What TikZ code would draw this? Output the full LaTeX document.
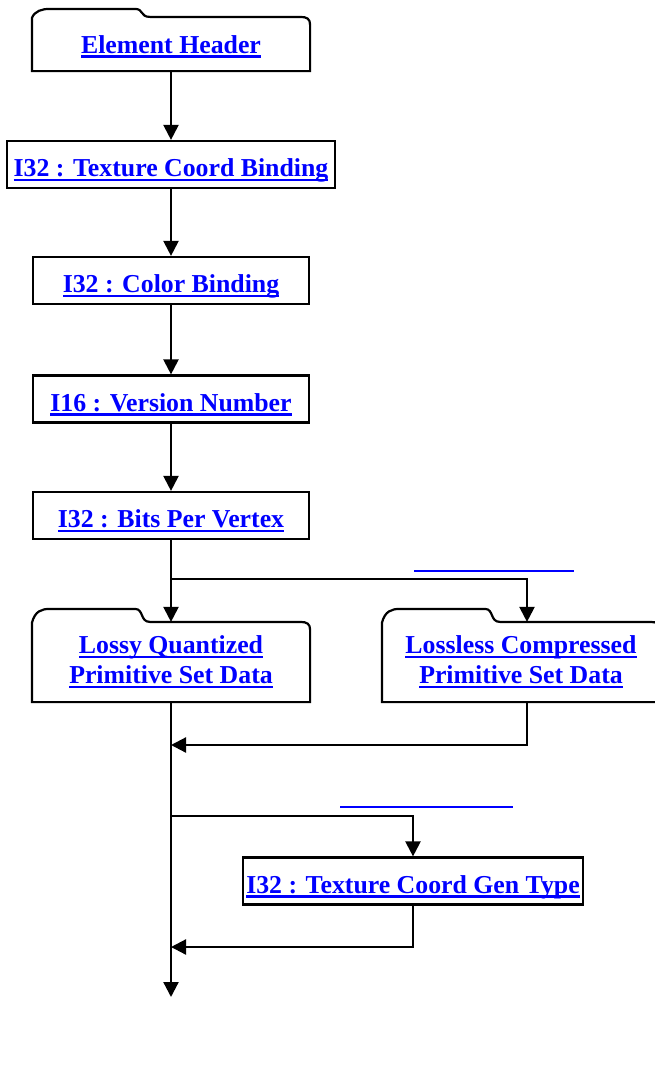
\documentclass[tikz,border=0pt]{standalone}
\usepackage{fontspec}
\setmainfont{Liberation Serif}
\usepackage{xcolor}
\usetikzlibrary{arrows.meta, calc}
\definecolor{linkblue}{RGB}{0,0,255}
\newcommand{\lnk}[1]{\setbox0\hbox{#1}\rlap{\rule[-4.5pt]{\wd0}{2.5pt}}\box0}

\begin{document}
\begin{tikzpicture}[x=1pt,y=1pt,line width=2.2pt,>={Triangle[length=15pt,width=15pt]}]
	\tikzstyle{field}=[draw,rectangle,inner sep=0pt,minimum width=276pt,minimum height=47pt,text=linkblue,font=\fontsize{25.8}{30}\selectfont\bfseries,text height=26pt,text depth=2pt]
	\tikzstyle{folder}=[rectangle,inner sep=0pt,minimum width=276pt,minimum height=78pt,text=linkblue,font=\fontsize{25.8}{30}\selectfont\bfseries,align=center]
	\useasboundingbox (0,0) rectangle (654,-1077);
	\node[folder,minimum height=52pt,text height=22pt,text depth=4pt](hdr) at (171,-44) {\lnk{Element Header}};
	\node[field,minimum width=328pt](tcb) at (171,-164.5) {\lnk{I32 : Texture Coord Binding}};
	\node[field](clr) at (171,-280.5) {\lnk{I32 : Color Binding}};
	\node[field](ver) at (171,-399) {\lnk{I16 : Version Number}};
	\node[field](bpv) at (171,-515.5) {\lnk{I32 : Bits Per Vertex}};
	\node[folder](lossy) at (171,-662) {\lnk{Lossy Quantized}\\\lnk{Primitive Set Data}};
	\node[folder](lossless) at (521,-662) {\lnk{Lossless Compressed}\\\lnk{Primitive Set Data}};
	\node[field,minimum width=340pt](gen) at (413,-881) {\lnk{I32 : Texture Coord Gen Type}};
	% folder outlines with a tab
	\foreach \n/\t in {hdr/8,lossy/13,lossless/13}
		\draw (\n.south west) -- ($(\n.north west)+(0,-1)$)
			.. controls ($(\n.north west)+(3,\t-2)$) and ($(\n.north west)+(10,\t)$) .. ($(\n.north west)+(18,\t)$)
			-- ($(\n.north west)+(103,\t)$)
			.. controls ($(\n.north west)+(112,\t)$) and ($(\n.north west)+(108,0)$) .. ($(\n.north west)+(118,0)$)
			-- ($(\n.north east)+(-10,0)$)
			.. controls ($(\n.north east)+(-3,0)$) and ($(\n.north east)+(0,-2)$) .. ($(\n.north east)+(0,-8)$)
			-- (\n.south east) -- cycle;
	% empty links
	\draw[linkblue,line width=2.5pt] (414,-571) -- (574,-571);
	\draw[linkblue,line width=2.5pt] (340,-807) -- (513,-807);
	\coordinate (split1) at (171,-579);
	\coordinate (join1) at (171,-745);
	\coordinate (split2) at (171,-816);
	\coordinate (join2) at (171,-947);
	\coordinate (fin) at (171,-997);
	\path[->]
		(hdr) edge (tcb)
		(tcb) edge (clr)
		(clr) edge (ver)
		(ver) edge (bpv)
		(bpv) edge (lossy);
	\draw[->] (split1) -| ([xshift=6pt]lossless.north);
	\draw[->] ([xshift=6pt]lossless.south) |- (join1);
	\draw[->] (lossy.south) -- (fin);
	\draw[->] (split2) -| (gen.north);
	\draw[->] (gen.south) |- (join2);
\end{tikzpicture}
\end{document}
